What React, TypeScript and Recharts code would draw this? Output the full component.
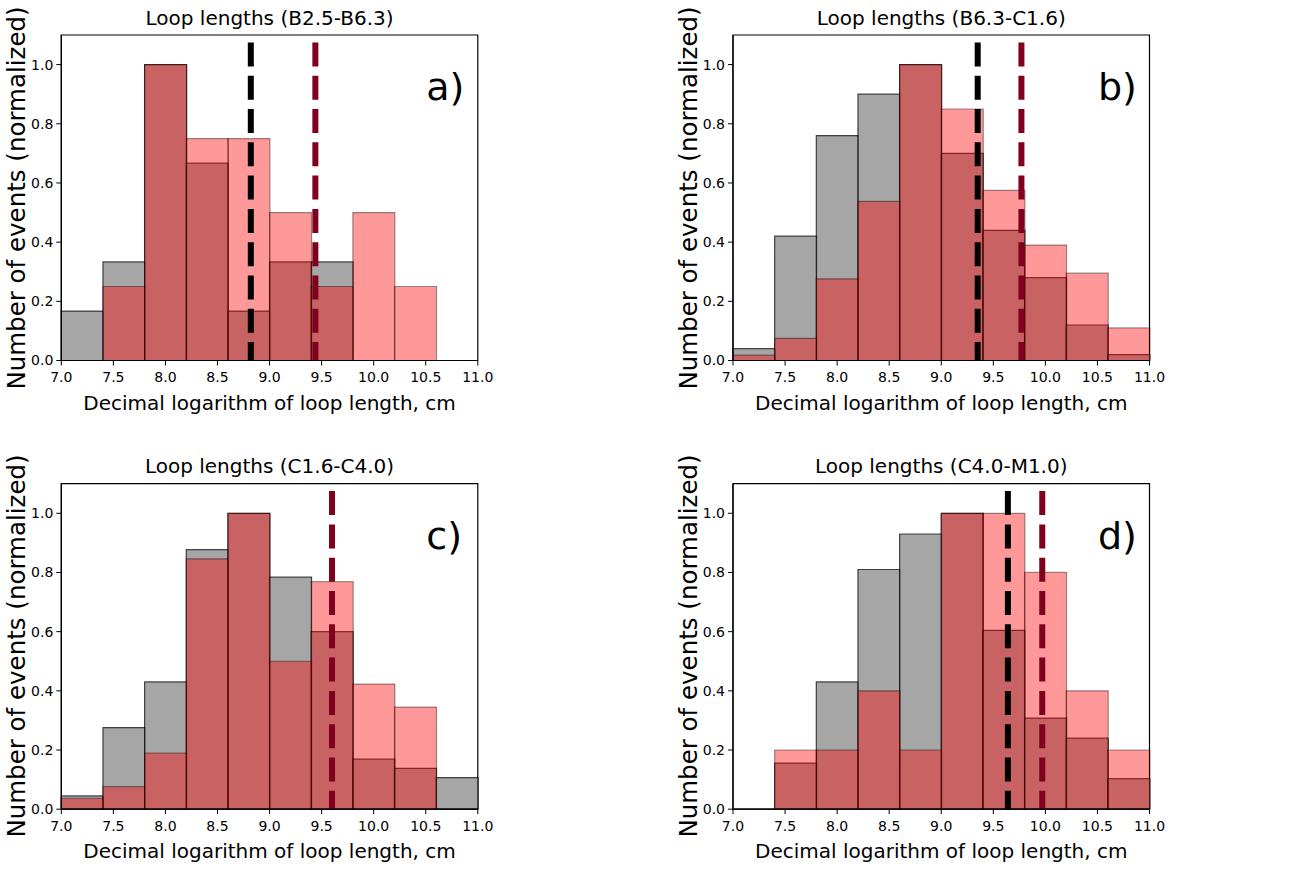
import { ComposedChart, Bar, XAxis, YAxis, ReferenceLine, ReferenceArea } from 'recharts'

const FONT = '"DejaVu Sans", Verdana, sans-serif'

// histogram bins, 0.4 wide from 7.0 to 11.0 (labels = left edge, centers for the numeric axis)
const bins = ['7.0', '7.4', '7.8', '8.2', '8.6', '9.0', '9.4', '9.8', '10.2', '10.6']
const binCenters = [7.2, 7.6, 8.0, 8.4, 8.8, 9.2, 9.6, 10.0, 10.4, 10.8]
const xTicks = [7, 7.5, 8, 8.5, 9, 9.5, 10, 10.5, 11]
const yTicks = [0, 0.2, 0.4, 0.6, 0.8, 1.0]

const grayA = [0.167, 0.333, 1.0, 0.667, 0.167, 0.333, 0.333, 0, 0, 0]
const redA = [0, 0.25, 1.0, 0.75, 0.75, 0.5, 0.25, 0.5, 0.25, 0]
const grayB = [0.04, 0.42, 0.76, 0.9, 1.0, 0.7, 0.44, 0.28, 0.12, 0.02]
const redB = [0.018, 0.075, 0.276, 0.538, 1.0, 0.85, 0.575, 0.39, 0.295, 0.11]
const grayC = [0.045, 0.276, 0.43, 0.877, 1.0, 0.784, 0.6, 0.169, 0.138, 0.107]
const redC = [0.037, 0.076, 0.19, 0.846, 1.0, 0.5, 0.769, 0.423, 0.345, 0]
const grayD = [0, 0.156, 0.43, 0.81, 0.93, 1.0, 0.604, 0.308, 0.24, 0.103]
const redD = [0, 0.2, 0.2, 0.4, 0.2, 1.0, 1.0, 0.8, 0.4, 0.2]

// medians (dashed lines): black = gray sample, dark red = red sample
const blackMedians = [8.82, 9.35, null, 9.64]
const redMedians = [9.44, 9.77, 9.6, 9.97]

const titles = [
  'Loop lengths (B2.5-B6.3)',
  'Loop lengths (B6.3-C1.6)',
  'Loop lengths (C1.6-C4.0)',
  'Loop lengths (C4.0-M1.0)',
]
const letters = ['a)', 'b)', 'c)', 'd)']

const W = 650
const H = 436
const PLOT_W = 416.5
const PLOT_H = 325.5
const Y_AXIS_W = 45
const X_AXIS_H = 30

interface PanelProps {
  idx: number
  left: number
  top: number
  plotLeft: number
  plotTop: number
  gray: number[]
  red: number[]
}

function Panel({ idx, left, top, plotLeft, plotTop, gray, red }: PanelProps) {
  const data = bins.map((b, i) => ({ bin: b, x: binCenters[i], gray: gray[i], red: red[i] }))
  const blackMed = blackMedians[idx]
  const redMed = redMedians[idx]
  const tickStyle = { fill: '#000', fontSize: 14, fontFamily: FONT }
  const plotCx = plotLeft + PLOT_W / 2

  return (
    <div style={{ position: 'absolute', left, top, width: W, height: H }}>
      <ComposedChart
        width={W}
        height={H}
        data={data}
        barCategoryGap={0}
        barGap={0}
        margin={{
          top: plotTop,
          left: plotLeft - Y_AXIS_W,
          right: W - plotLeft - PLOT_W,
          bottom: H - plotTop - PLOT_H - X_AXIS_H,
        }}
      >
        <XAxis
          xAxisId="n"
          dataKey="x"
          type="number"
          domain={[7, 11]}
          ticks={xTicks}
          allowDataOverflow
          tickFormatter={(v: number) => v.toFixed(1)}
          height={X_AXIS_H}
          tick={tickStyle}
          tickSize={5}
          tickMargin={7}
          tickLine={{ stroke: '#000' }}
          axisLine={{ stroke: '#000', strokeWidth: 1.2 }}
        />
        {/* one hidden category axis per series so the two histograms overlap */}
        <XAxis xAxisId="g" dataKey="bin" hide height={0} />
        <XAxis xAxisId="r" dataKey="bin" hide height={0} />
        <YAxis
          type="number"
          domain={[0, 1.1]}
          ticks={yTicks}
          allowDataOverflow
          tickFormatter={(v: number) => v.toFixed(1)}
          width={Y_AXIS_W}
          tick={tickStyle}
          tickSize={5}
          tickMargin={3}
          tickLine={{ stroke: '#000' }}
          axisLine={{ stroke: '#000', strokeWidth: 1.2 }}
        />
        <Bar
          xAxisId="g"
          dataKey="gray"
          fill="#808080"
          fillOpacity={0.7}
          stroke="#000"
          strokeOpacity={0.7}
          strokeWidth={1.2}
          isAnimationActive={false}
        />
        <Bar
          xAxisId="r"
          dataKey="red"
          fill="#ff0000"
          fillOpacity={0.4}
          stroke="#000"
          strokeOpacity={0.4}
          strokeWidth={1.2}
          isAnimationActive={false}
        />
        {blackMed !== null && (
          <ReferenceLine
            xAxisId="n"
            segment={[{ x: blackMed, y: 1.075 }, { x: blackMed, y: 0 }]}
            stroke="#000"
            strokeWidth={6}
            strokeDasharray="24 9.3"
          />
        )}
        <ReferenceLine
          xAxisId="n"
          segment={[{ x: redMed, y: 1.075 }, { x: redMed, y: 0 }]}
          stroke="#800020"
          strokeWidth={6}
          strokeDasharray="24 9.3"
        />
        <ReferenceArea
          xAxisId="n"
          x1={7}
          x2={11}
          y1={0}
          y2={1.1}
          fill="none"
          fillOpacity={0}
          stroke="#000"
          strokeWidth={1.2}
        />
      </ComposedChart>

      <div style={{
        position: 'absolute', left: plotCx, top: plotTop - 27.5, transform: 'translateX(-50%)',
        fontSize: 20, lineHeight: 1, whiteSpace: 'nowrap', color: '#000',
      }}>{titles[idx]}</div>

      <div style={{
        position: 'absolute', left: plotCx, top: plotTop + PLOT_H + 32, transform: 'translateX(-50%)',
        fontSize: 20, lineHeight: 1, whiteSpace: 'nowrap', color: '#000',
      }}>Decimal logarithm of loop length, cm</div>

      <div style={{
        position: 'absolute', left: plotLeft - 44, top: plotTop + PLOT_H / 2,
        transform: 'translate(-50%, -50%) rotate(-90deg)',
        fontSize: 24.5, lineHeight: 1, whiteSpace: 'nowrap', color: '#000',
      }}>Number of events (normalized)</div>

      <div style={{
        position: 'absolute', left: plotLeft + 365, top: plotTop + 33,
        fontSize: 38, lineHeight: 1, whiteSpace: 'nowrap', color: '#000',
      }}>{letters[idx]}</div>
    </div>
  )
}

export default function App() {
  return (
    <div style={{
      position: 'absolute', left: 0, top: 0, width: 1300, height: 873,
      background: '#fff', fontFamily: FONT, overflow: 'hidden',
    }}>
      <Panel idx={0} left={0} top={0} plotLeft={61.3} plotTop={35} gray={grayA} red={redA} />
      <Panel idx={1} left={650} top={0} plotLeft={83} plotTop={35} gray={grayB} red={redB} />
      <Panel idx={2} left={0} top={436} plotLeft={61.3} plotTop={47.7} gray={grayC} red={redC} />
      <Panel idx={3} left={650} top={436} plotLeft={83} plotTop={47.7} gray={grayD} red={redD} />
    </div>
  )
}
